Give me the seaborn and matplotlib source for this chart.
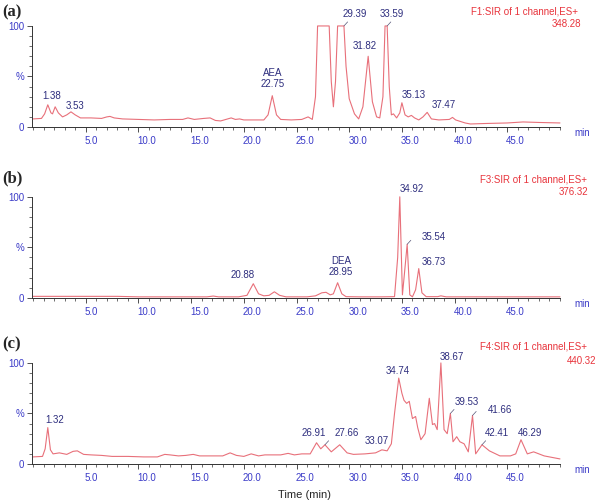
import matplotlib
matplotlib.use("Agg")
import matplotlib.pyplot as plt
import matplotlib.transforms as mtransforms
from matplotlib.ticker import MultipleLocator, FixedLocator
import seaborn as sns
import pandas as pd

# ---------------------------------------------------
# DATA
# ---------------------------------------------------

# panel (a)  F1 : 348.28
time_a = [0, 0.8, 1.1, 1.4, 1.7, 1.85, 2.1, 2.4, 2.8, 3.2,
          3.6, 4.0, 4.5, 5.5, 6.5, 7.0, 7.3, 7.7, 8.5, 10,
          11.5, 13, 14.2, 14.7, 15.3, 16.2, 16.8, 17.3, 17.8, 18.8,
          19.2, 19.6, 20.0, 21.0, 21.9, 22.3, 22.7, 23.1, 23.5, 24.5,
          25.5, 26.1, 26.5, 26.8, 27.0, 28.1, 28.3, 28.5, 28.7, 28.9,
          29.5, 29.7, 30.0, 30.5, 30.9, 31.3, 31.8, 32.2, 32.6, 32.9,
          33.2, 33.4, 33.6, 33.8, 34.0, 34.2, 34.5, 34.8, 35.0, 35.3,
          35.6, 35.9, 36.2, 36.6, 37.0, 37.4, 37.8, 38.5, 39.5, 39.8,
          40.1, 41.0, 41.5, 43, 45, 46.5, 48, 50]
int_a = [8, 8.5, 13, 22, 14, 13, 20, 14, 10, 12,
         15, 12, 9, 9, 8.5, 10, 10.5, 9, 8, 7.5,
         7, 7.5, 7.5, 9, 7.5, 8.5, 9, 6.5, 6, 9,
         7.5, 8, 7, 7, 7, 12, 31, 12, 7.5, 7,
         7.5, 10, 7.5, 30, 100, 100, 45, 20, 45, 100,
         100, 60, 28, 13, 8, 20, 70, 25, 10, 9,
         30, 100, 100, 40, 12, 13, 9, 14, 24, 12,
         10, 11.5, 9, 7, 10, 14.5, 8, 7, 7.5, 9.5,
         7, 4, 3, 3.5, 4, 5, 4.5, 4]

# panel (b)  F3 : 376.32
time_b = [0, 3, 6, 8, 10, 14, 16.5, 17.1, 17.6, 19.5,
          20.3, 20.9, 21.4, 21.9, 22.4, 22.9, 23.4, 24, 26, 26.8,
          27.4, 27.8, 28.2, 28.5, 28.9, 29.3, 29.7, 31, 33, 34.3,
          34.6, 34.8, 35.05, 35.25, 35.5, 35.75, 36.0, 36.3, 36.6, 36.9,
          37.3, 38.4, 38.7, 39.2, 42, 46, 50]
int_b = [1.5, 1.5, 1.5, 1.5, 1, 1, 1, 1.8, 1, 1,
         2.5, 14, 4, 2, 2.5, 6, 2.5, 1, 1, 2,
         5, 5.5, 3, 4, 15, 4, 1.2, 1, 1, 1.2,
         40, 100, 3, 25, 53, 3, 1, 8, 29, 5,
         1.2, 1.2, 2, 1, 1, 1, 1]

# panel (c)  F4 : 440.32
time_c = [0, 0.9, 1.15, 1.4, 1.65, 1.9, 2.5, 3.2, 3.8, 4.2,
          4.8, 5.5, 6.5, 7.5, 9, 10.5, 11.8, 12.5, 13.0, 13.8,
          14.5, 15.2, 15.8, 17.0, 18.0, 18.7, 19.3, 20.0, 20.7, 21.4,
          22.0, 23.5, 24.2, 24.8, 25.5, 26.3, 26.9, 27.3, 27.7, 28.3,
          29.1, 29.8, 30.4, 31.5, 32.5, 33.1, 33.6, 34.0, 34.3, 34.7,
          35.0, 35.2, 35.45, 35.7, 36.0, 36.3, 36.5, 36.8, 37.2, 37.6,
          37.9, 38.1, 38.35, 38.7, 39.0, 39.3, 39.6, 39.85, 40.2, 40.5,
          40.9, 41.3, 41.7, 42.0, 42.6, 43.3, 44.3, 45.3, 45.8, 46.3,
          46.9, 47.5, 48.5, 50]
int_c = [7, 7.5, 15, 36, 14, 10, 11, 9.5, 12.5, 13,
         9.5, 9, 8.5, 7.5, 7.5, 7, 7, 9.5, 9, 8,
         8.5, 9.5, 8, 8, 8, 11, 8.5, 7.5, 10, 8,
         9, 9, 10.5, 9, 10, 10, 21, 15, 19, 12,
         19, 11, 9.5, 10, 11, 14, 13, 20, 50, 85,
         70, 63, 60, 62, 45, 47, 36, 24, 30, 65,
         39, 40, 34, 100, 34, 30, 50, 22, 27, 22,
         20, 12, 48, 10, 19, 13, 8, 8, 10, 24,
         10, 12, 8, 5]

# peak labels: (text, time, height) — where the label sits
labels_a = [("1.38", 1.8, 30.7), ("3.53", 4.0, 20.8), ("AEA", 22.7, 53.5),
            ("22.75", 22.7, 42.6), ("29.39", 30.5, 112), ("33.59", 34.0, 112),
            ("31.82", 31.5, 80), ("35.13", 36.1, 31.7), ("37.47", 39.0, 21.8)]
labels_b = [("20.88", 19.9, 22.8), ("DEA", 29.2, 36.6), ("28.95", 29.2, 25.7),
            ("34.92", 35.9, 108), ("35.54", 38.0, 60.4), ("36.73", 38.0, 35.6)]
labels_c = [("1.32", 2.1, 43.6), ("26.91", 26.6, 30.7), ("27.66", 29.8, 30.7),
            ("33.07", 32.6, 22.8), ("34.74", 34.6, 92), ("38.67", 39.7, 106),
            ("39.53", 41.2, 61.4), ("41.66", 44.3, 53.5), ("42.41", 44.0, 30.7),
            ("46.29", 47.2, 30.7)]

# peaks that carry a small leader tick (retention times in the data lists)
leaders_a = [29.5, 33.6]
leaders_b = [35.5]
leaders_c = [27.7, 39.6, 41.7, 42.6]

panels = [
    ("(a)", time_a, int_a, labels_a, leaders_a, "F1:SIR of 1 channel,ES+", "348.28"),
    ("(b)", time_b, int_b, labels_b, leaders_b, "F3:SIR of 1 channel,ES+", "376.32"),
    ("(c)", time_c, int_c, labels_c, leaders_c, "F4:SIR of 1 channel,ES+", "440.32"),
]

# ---------------------------------------------------
# STYLE
# ---------------------------------------------------

sns.set_style("ticks")
plt.rcParams["font.family"] = ["Liberation Sans", "DejaVu Sans"]

LINE = "#e8707a"
TICK = "#3b3bc8"
PEAK = "#2e2e7e"
RED = "#e8343c"

fig = plt.figure(figsize=(6, 5.04), dpi=100)

# axes boxes in figure fraction (left, bottom, width, height)
boxes = [(0.0533, 0.748, 0.88, 0.2005),
         (0.0533, 0.409, 0.88, 0.2005),
         (0.0533, 0.0794, 0.88, 0.2005)]
letter_y = [0.975, 0.646, 0.316]
ch_pos = [((1.034, 1.139), (1.040, 1.020)),
          ((1.051, 1.168), (1.053, 1.050)),
          ((1.051, 1.158), (1.068, 1.020))]

for i, (letter, t, v, labels, leaders, chan, mass) in enumerate(panels):

    ax = fig.add_axes(boxes[i])

    df = pd.DataFrame({"Time": t, "Intensity": v})

    sns.lineplot(
        x="Time",
        y="Intensity",
        data=df,
        ax=ax,
        color=LINE,
        linewidth=0.8,
        clip_on=False
    )

    ax.set_xlim(-0.1, 50.0)
    ax.set_ylim(0, 100)

    sns.despine(ax=ax)
    for side in ["left", "bottom"]:
        ax.spines[side].set_linewidth(0.7)
        ax.spines[side].set_color("#333333")

    ax.xaxis.set_major_locator(FixedLocator([5, 10, 15, 20, 25, 30, 35, 40, 45]))
    ax.xaxis.set_minor_locator(MultipleLocator(1))
    ax.set_xticklabels(["5.0", "10.0", "15.0", "20.0", "25.0",
                        "30.0", "35.0", "40.0", "45.0"])
    ax.yaxis.set_major_locator(FixedLocator([0, 50, 100]))
    ax.yaxis.set_minor_locator(MultipleLocator(10))
    ax.set_yticklabels(["0", "%", "100"])

    ax.tick_params(axis="both", which="major", length=3.5, width=0.6,
                   color="#333333", labelsize=7, labelcolor=TICK, pad=2)
    ax.tick_params(axis="both", which="minor", length=2, width=0.5,
                   color="#333333")
    ax.tick_params(axis="x", which="major", pad=3)

    for lab in ax.get_xticklabels():
        lab.set_horizontalalignment("left")
        lab.set_transform(lab.get_transform() +
                          mtransforms.ScaledTranslation(-0.01, 0, fig.dpi_scale_trans))

    ax.set_xlabel("")
    ax.set_ylabel("")

    for txt, px, py in labels:
        ax.text(px, py, txt, fontsize=7, color=PEAK,
                ha="center", va="center", clip_on=False)

    # little leader ticks from the apex up to the right
    lookup = dict(zip(t, v))
    for rt in leaders:
        top = lookup[rt]
        ax.plot([rt, rt + 0.35], [top, top + 4], color="#555577",
                linewidth=0.5, clip_on=False)

    ax.text(ch_pos[i][0][0], ch_pos[i][0][1], chan, transform=ax.transAxes,
            fontsize=7, color=RED, ha="right", va="center")
    ax.text(ch_pos[i][1][0], ch_pos[i][1][1], mass, transform=ax.transAxes,
            fontsize=7, color=RED, ha="right", va="center")

    ax.text(1.028, -0.06, "min", transform=ax.transAxes,
            fontsize=7, color=TICK, ha="left", va="center")

    fig.text(0.004, letter_y[i], letter, fontsize=12, fontweight="bold",
             family="Liberation Serif", ha="left", va="center")

fig.text(0.507, 0.018, "Time (min)", fontsize=8, ha="center", va="center")

fig.savefig("out.png", dpi=100)
plt.close(fig)
